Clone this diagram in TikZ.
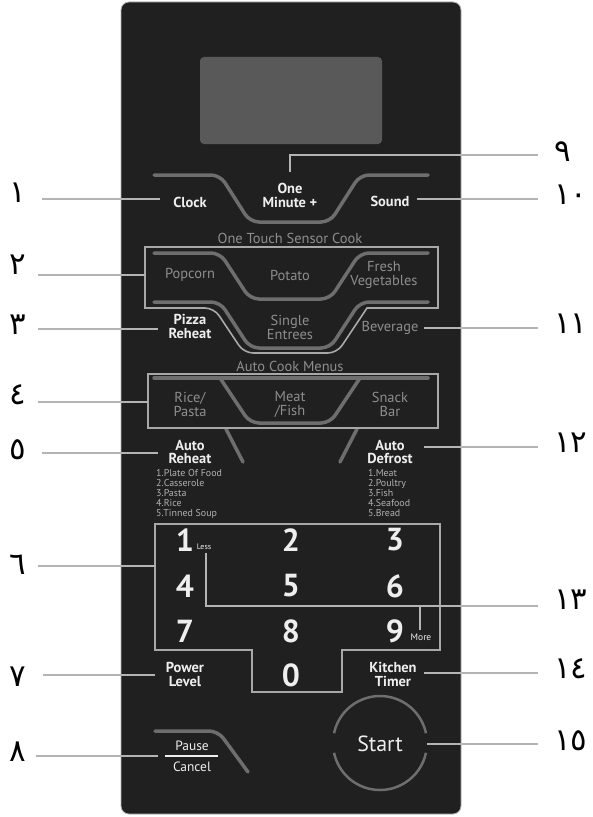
\documentclass[tikz,border=0pt]{standalone}
\usepackage{fontspec}
\setmainfont{PT Sans}
\newfontfamily\arabicfont[Script=Arabic]{DejaVu Sans}
\usetikzlibrary{positioning}

\definecolor{panelbg}{HTML}{202020}
\definecolor{screenbg}{HTML}{595959}
\definecolor{keyline}{HTML}{6E6E6E}
\definecolor{boxline}{HTML}{A8A8A8}
\definecolor{leader}{HTML}{B4B4B4}
\definecolor{keytext}{HTML}{8E8E8E}
\definecolor{lighttext}{HTML}{EEEEEE}

\tikzset{
  keypath/.style={keyline, line width=3.5bp, line cap=round, rounded corners=9bp},
  groupbox/.style={boxline, line width=1.6bp},
  leaderline/.style={leader, line width=2bp},
  numlabel/.style={font=\arabicfont\fontsize{31}{31}\selectfont, inner sep=0pt},
  whitekey/.style={lighttext, font=\bfseries\fontsize{14.5}{14}\selectfont, align=center, inner sep=0pt},
  graykey/.style={keytext, font=\fontsize{14.5}{14}\selectfont, align=center, inner sep=0pt},
  digitkey/.style={lighttext, font=\bfseries\fontsize{32}{32}\selectfont, inner sep=0pt},
  menulist/.style={keytext!70!white, font=\fontsize{10}{10}\selectfont, align=left, anchor=north west, inner sep=0pt},
}

\begin{document}
\begin{tikzpicture}[x=1bp, y=-1bp]
    \useasboundingbox[fill=white] (0,0) rectangle (593,817);

    % 面板
    \fill[panelbg, draw=gray!60, line width=0.8bp, rounded corners=8bp] (121,2) rectangle (461,814);

    % 显示屏
    \fill[screenbg, rounded corners=4bp] (200,57) rectangle (382,144);

    % 按键轮廓
    \draw[keypath] (154,175) -- (220,175) -- (250,222) -- (330,222) -- (360,175) -- (428,175);
    \draw[keypath] (154,253) -- (220,253) -- (250,299) -- (330,299) -- (360,253) -- (428,253);
    \draw[keypath] (154,302) -- (220,302) -- (250,348) -- (330,348) -- (360,302) -- (428,302);
    \draw[keypath] (154,378) -- (428,378);
    \draw[keypath] (220,378) -- (250,423) -- (330,423) -- (360,378);
    \draw[keypath] (226,429) -- (243,462);
    \draw[keypath] (357,429) -- (340,462);
    \draw[keypath] (155,731) -- (218,731) -- (248,772);

    % 分组框
    \draw[groupbox] (145,247) -- (438,247) -- (438,308) -- (367,308)
        [rounded corners=9bp] -- (337,353) -- (244,353) -- (214,308) [sharp corners] -- (145,308) -- cycle;
    \draw[groupbox] (148,374) rectangle (438,428);
    \draw[groupbox] (155,524) -- (440,524) -- (440,650) -- (342,650) -- (342,692)
        -- (252,692) -- (252,650) -- (155,650) -- cycle;

    % 开始键
    \draw[keyline, line width=2.5bp] (380,743) ++(12:47) arc[start angle=12, end angle=168, radius=47];
    \draw[keyline, line width=2.5bp] (380,743) ++(192:47) arc[start angle=192, end angle=348, radius=47];

    % 按键文字
    \node[whitekey] (clock) at (190,202) {Clock};
    \node[whitekey] (oneminute) at (290,195) {One\\Minute +};
    \node[whitekey] (sound) at (390,201) {Sound};
    \node[graykey] (sensortitle) at (290,238) {One Touch Sensor Cook};
    \node[graykey] (popcorn) at (190,275) {Popcorn};
    \node[graykey] (potato) at (290,275) {Potato};
    \node[graykey] (fresh) at (384,275) {Fresh\\Vegetables};
    \node[whitekey] (pizza) at (190,326) {Pizza\\Reheat};
    \node[graykey] (single) at (290,327) {Single\\Entrees};
    \node[graykey] (beverage) at (390,328) {Beverage};
    \node[graykey] (autotitle) at (290,366) {Auto Cook Menus};
    \node[graykey] (rice) at (190,404) {Rice/\\Pasta};
    \node[graykey] (meat) at (290,404) {Meat\\/Fish};
    \node[graykey] (snack) at (390,404) {Snack\\Bar};
    \node[whitekey] (autoreheat) at (190,452) {Auto\\Reheat};
    \node[whitekey] (autodefrost) at (390,452) {Auto\\Defrost};
    \node[menulist] (reheatlist) at (156,469) {1.Plate Of Food\\2.Casserole\\3.Pasta\\4.Rice\\5.Tinned Soup};
    \node[menulist] (defrostlist) at (368,469) {1.Meat\\2.Poultry\\3.Fish\\4.Seafood\\5.Bread};

    % 数字键
    \node[digitkey] (d1) at (185,540) {1};
    \node[digitkey] (d2) at (291,540) {2};
    \node[digitkey] (d3) at (395,540) {3};
    \node[digitkey] (d4) at (185,586) {4};
    \node[digitkey] (d5) at (291,586) {5};
    \node[digitkey] (d6) at (395,586) {6};
    \node[digitkey] (d7) at (185,631) {7};
    \node[digitkey] (d8) at (291,631) {8};
    \node[digitkey] (d9) at (395,631) {9};
    \node[digitkey] (d0) at (291,675) {0};
    \node[lighttext, font=\fontsize{8}{8}\selectfont, inner sep=0pt] (less) at (204,547) {Less};
    \node[lighttext, font=\fontsize{9.5}{9.5}\selectfont, inner sep=0pt] (more) at (421,637) {More};

    \node[whitekey] (power) at (185,674) {Power\\Level};
    \node[whitekey] (kitchen) at (393,674) {Kitchen\\Timer};
    \node[lighttext, font=\fontsize{13.5}{13.5}\selectfont, inner sep=0pt] (pause) at (192,746) {Pause};
    \node[lighttext, font=\fontsize{13.5}{13.5}\selectfont, inner sep=0pt] (cancel) at (192,767) {Cancel};
    \coordinate (barl) at (165,756);
    \coordinate (barr) at (218,756);
    \draw[lighttext, line width=1.2bp] (barl) -- (barr);
    \node[lighttext, font=\fontsize{22}{22}\selectfont, inner sep=0pt] (start) at (380,744) {Start};

    % 编号
    \node[numlabel] (n1) at (18,193) {١};
    \node[numlabel] (n2) at (18,265) {٢};
    \node[numlabel] (n3) at (18,325) {٣};
    \node[numlabel] (n4) at (18,395) {٤};
    \node[numlabel] (n5) at (18,450) {٥};
    \node[numlabel] (n6) at (18,565) {٦};
    \node[numlabel] (n7) at (18,677) {٧};
    \node[numlabel] (n8) at (18,752) {٨};
    \node[numlabel, anchor=west] (n9) at (554,152) {٩};
    \node[numlabel, anchor=west] (n10) at (554,195) {١٠};
    \node[numlabel, anchor=west] (n11) at (554,324) {١١};
    \node[numlabel, anchor=west] (n12) at (554,443) {١٢};
    \node[numlabel, anchor=west] (n13) at (554,600) {١٣};
    \node[numlabel, anchor=west] (n14) at (554,669) {١٤};
    \node[numlabel, anchor=west] (n15) at (554,741) {١٥};

    % 引线
    \foreach \i/\xa/\xb/\y in {1/42/160/199, 2/38/145/275, 3/38/158/329, 4/38/148/402,
        5/42/158/453, 6/38/155/566, 7/43/155/675, 8/36/158/756,
        10/417/538/199, 11/424/538/328, 12/424/538/447, 14/424/538/673, 15/427/538/744} {
        \coordinate (la\i) at (\xa,\y);
        \coordinate (lb\i) at (\xb,\y);
        \draw[leaderline] (la\i) -- (lb\i);
    }
    \coordinate (la9) at (290,172);
    \coordinate (lb9) at (538,155);
    \draw[leaderline] (la9) |- (lb9);
    \coordinate (la13) at (206,553);
    \coordinate (lb13) at (538,606);
    \coordinate (lc13) at (420,630);
    \draw[leaderline] (la13) |- (lb13);
    \draw[leaderline] (lc13) -- (lc13 |- lb13);
\end{tikzpicture}
\end{document}
